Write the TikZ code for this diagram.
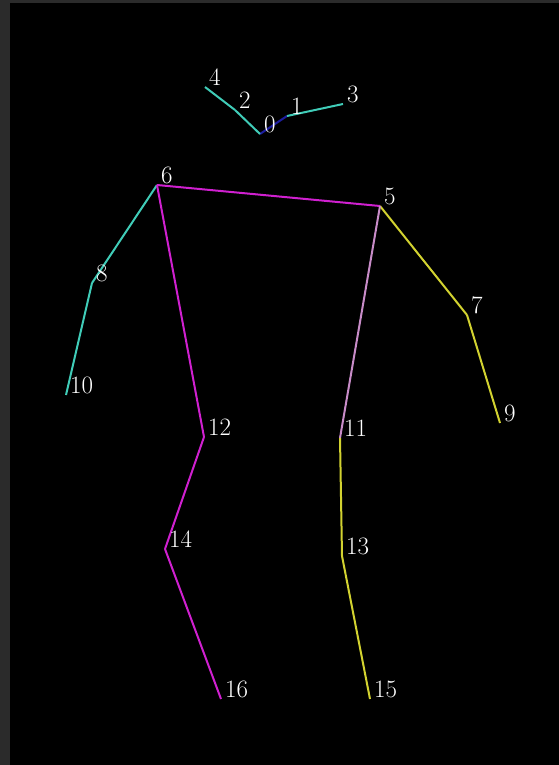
\documentclass[tikz,border=0pt]{standalone}
\begin{document}
\begin{tikzpicture}[x=1pt,y=-1pt,
  lbl/.style={anchor=south west,inner sep=0pt,text=white,font=\fontsize{25}{25}\selectfont},
  bone/.style={line width=2pt},
  teal/.style={bone,draw={rgb,255:red,64;green,204;blue,184}},
  mag/.style={bone,draw={rgb,255:red,208;green,32;blue,208}},
  yel/.style={bone,draw={rgb,255:red,210;green,210;blue,48}},
  pnk/.style={bone,draw={rgb,255:red,200;green,140;blue,200}},
  dblue/.style={bone,draw={rgb,255:red,30;green,30;blue,160}}]
\useasboundingbox (0,0) rectangle (559,765);
\fill[black!83] (0,0) rectangle (559,765);
\fill[black] (10,3) rectangle (559,765);
% keypoints
\coordinate (k0) at (260,134);
\coordinate (k1) at (287,116);
\coordinate (k2) at (235,110);
\coordinate (k3) at (343,104);
\coordinate (k4) at (205,87);
\coordinate (k5) at (380,206);
\coordinate (k6) at (157,185);
\coordinate (k7) at (467,315);
\coordinate (k8) at (92,283);
\coordinate (k9) at (500,423);
\coordinate (k10) at (66,395);
\coordinate (k11) at (340,438);
\coordinate (k12) at (204,437);
\coordinate (k13) at (342,556);
\coordinate (k14) at (165,549);
\coordinate (k15) at (370,699);
\coordinate (k16) at (221,699);
% bones
\draw[dblue] (k0) -- (k1);
\draw[teal] (k1) -- (k3);
\draw[teal] (k0) -- (k2);
\draw[teal] (k2) -- (k4);
\draw[mag] (k6) -- (k5);
\draw[teal] (k6) -- (k8);
\draw[teal] (k8) -- (k10);
\draw[mag] (k6) -- (k12);
\draw[mag] (k12) -- (k14);
\draw[mag] (k14) -- (k16);
\draw[yel] (k5) -- (k7);
\draw[yel] (k7) -- (k9);
\draw[pnk] (k5) -- (k11);
\draw[yel] (k11) -- (k13);
\draw[yel] (k13) -- (k15);
% labels
\foreach \i in {0,...,16} {
  \node[lbl] (l\i) at ([shift={(4,-1)}]k\i) {\i};
}
\end{tikzpicture}
\end{document}
